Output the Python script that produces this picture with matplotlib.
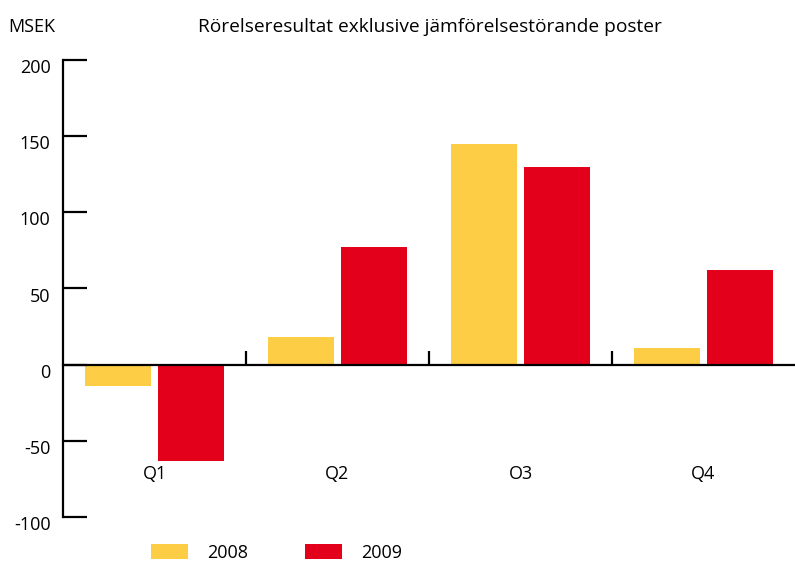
import matplotlib
matplotlib.use("Agg")
import matplotlib.pyplot as plt
import matplotlib.transforms as mtransforms
import numpy as np

plt.rcParams['font.family'] = ['Open Sans', 'DejaVu Sans']

# Data (MSEK)
quarters = ["Q1", "Q2", "O3", "Q4"]
values_2008 = [-14, 18, 145, 11]
values_2009 = [-63, 77, 130, 62]
years = ["2008", "2009"]

yellow = "#FDCD46"
red = "#E2001A"

fig = plt.figure(figsize=(7.95, 5.62), dpi=100)
ax = fig.add_axes([63 / 795, 45 / 562, 732 / 795, 457 / 562])

x = np.arange(len(quarters)) + 0.5
w = 0.36
ax.bar(x - 0.2, values_2008, width=w, color=yellow, label=years[0])
ax.bar(x + 0.2, values_2009, width=w, color=red, label=years[1])

ax.set_xlim(0, 4)
ax.set_ylim(-100, 200)

# axes styling
for s in ["top", "right"]:
    ax.spines[s].set_visible(False)
ax.spines["bottom"].set_position(("data", 0))
ax.spines["left"].set_linewidth(1.6)
ax.spines["bottom"].set_linewidth(1.6)
ax.set_yticks([-100, -50, 0, 50, 100, 150, 200])
ax.set_yticklabels(["-100", "-50", "0", "50", "100", "150", "200"])
ax.tick_params(axis="y", direction="in", length=17, width=1.6, labelsize=13, pad=9)
# labels sit a little below their ticks in the original
shift = mtransforms.ScaledTranslation(0, -6 / 100, fig.dpi_scale_trans)
for lab in ax.get_yticklabels():
    lab.set_transform(lab.get_transform() + shift)
ax.set_xticks([1, 2, 3])
ax.set_xticklabels([])
ax.tick_params(axis="x", direction="in", length=10, width=1.6)

for xi, q in zip(x, quarters):
    ax.text(xi, -72, q, ha="center", va="center", fontsize=13)

fig.text(8 / 795, 1 - 27 / 562, "MSEK", ha="left", va="center", fontsize=13)
fig.text(430 / 795, 1 - 27 / 562, "Rörelseresultat exklusive jämförelsestörande poster",
         ha="center", va="center", fontsize=13.8)

fig.legend(loc="center left", bbox_to_anchor=(151 / 795, 9 / 562), ncol=2,
           frameon=False, fontsize=13, handlelength=2.05, handleheight=0.9,
           handletextpad=1.05, columnspacing=3.15, borderpad=0, borderaxespad=0)

fig.savefig("out.png", dpi=100)
